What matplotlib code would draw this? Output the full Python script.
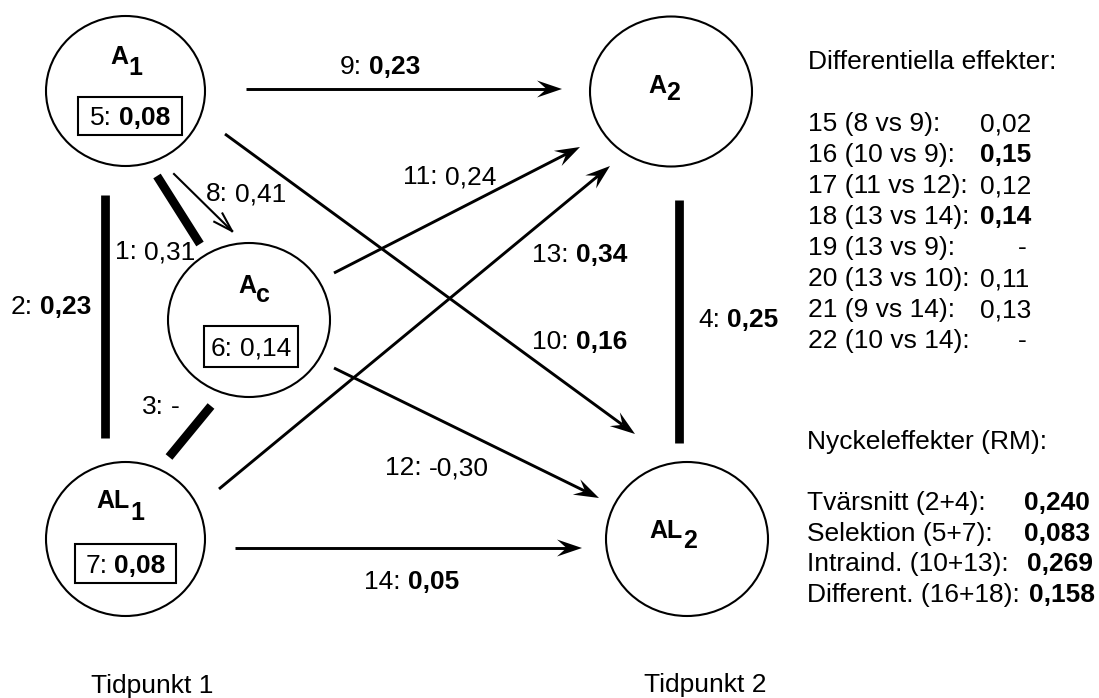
import numpy as np
import matplotlib
matplotlib.use("Agg")
import matplotlib.pyplot as plt
from matplotlib.patches import Ellipse, Rectangle

plt.rcParams['font.family'] = ['Liberation Sans', 'DejaVu Sans']

# --- data -------------------------------------------------------------
# path id, coefficient, significant (bold)
path_ids = ["1", "2", "3", "4", "8", "9", "10", "11", "12", "13", "14"]
path_vals = ["0,31", "0,23", "-", "0,25", "0,41", "0,23", "0,16", "0,24", "-0,30", "0,34", "0,05"]
path_bold = [False, True, False, True, False, True, True, False, False, True, True]

# selection effects shown in boxes inside the nodes
box_ids = ["5", "6", "7"]
box_vals = ["0,08", "0,14", "0,08"]
box_bold = [True, False, True]

diff_labels = ["15 (8 vs 9):", "16 (10 vs 9):", "17 (11 vs 12):", "18 (13 vs 14):",
               "19 (13 vs 9):", "20 (13 vs 10):", "21 (9 vs 14):", "22 (10 vs 14):"]
diff_vals = ["0,02", "0,15", "0,12", "0,14", "-", "0,11", "0,13", "-"]
diff_bold = [False, True, False, True, False, False, False, False]

key_labels = ["Tvärsnitt (2+4):", "Selektion (5+7):", "Intraind. (10+13):", "Different. (16+18):"]
key_vals = ["0,240", "0,083", "0,269", "0,158"]

# --- layout (pixel coords, y down) -----------------------------------
# centre x, centre y, radius x, radius y, label, (join x, main baseline, sub baseline)
nodes = {
    "A1": (125.5, 91, 79.5, 75, ("A", "1"), (128, 64, 75)),
    "A2": (671, 91.5, 81, 75, ("A", "2"), (666, 93, 100)),
    "Ac": (249, 320, 81, 77, ("A", "c"), (256, 293, 302)),
    "AL1": (125.5, 539, 79.5, 77, ("AL", "1"), (130, 508, 520)),
    "AL2": (687, 539, 81, 77, ("AL", "2"), (683, 538, 548)),
}
boxes = {"5": (78, 97, 104, 38), "6": (204, 326, 94, 41), "7": (75, 544, 101, 39)}

FS = 19
GAP = 0.278 * FS * 100 / 72

fig = plt.figure(figsize=(10.99, 6.98), dpi=100)
ax = fig.add_axes([0, 0, 1, 1])
ax.set_xlim(0, 1099)
ax.set_ylim(698, 0)
ax.axis('off')
renderer = fig.canvas.get_renderer()


def rich(x, y, parts, size=FS, ha='left'):
    # draw text pieces with mixed weights side by side, y = vertical centre
    objs = []
    cx = x
    base = y + 0.716 * size * 100 / 72 / 2
    for i, (s, b) in enumerate(parts):
        t = ax.text(cx, base, s, fontsize=size, fontweight='bold' if b else 'normal',
                    ha='left', va='baseline')
        cx += t.get_window_extent(renderer).width
        if i < len(parts) - 1:
            cx += GAP
        objs.append(t)
    if ha == 'center':
        shift = (cx - x) / 2
        for t in objs:
            t.set_x(t.get_position()[0] - shift)


def arrow(p0, p1, lw=2.1, hl=25, hw=8.5):
    (x0, y0), (x1, y1) = p0, p1
    d = np.hypot(x1 - x0, y1 - y0)
    ux, uy = (x1 - x0) / d, (y1 - y0) / d
    nx, ny = -uy, ux
    bx, by = x1 - hl * ux, y1 - hl * uy
    mx, my = x1 - 0.62 * hl * ux, y1 - 0.62 * hl * uy
    ax.plot([x0, mx], [y0, my], color='k', lw=lw, solid_capstyle='butt')
    ax.fill([x1, bx + hw * nx, mx, bx - hw * nx], [y1, by + hw * ny, my, by - hw * ny],
            color='k', lw=0)


def open_arrow(p0, p1, lw=1.5, hl=20, ang=17):
    (x0, y0), (x1, y1) = p0, p1
    ax.plot([x0, x1], [y0, y1], color='k', lw=lw)
    a = np.arctan2(y0 - y1, x0 - x1)
    for s in (-1, 1):
        b = a + s * np.radians(ang)
        ax.plot([x1, x1 + hl * np.cos(b)], [y1, y1 + hl * np.sin(b)], color='k', lw=lw)


def thick(p0, p1, lw=6.3):
    ax.plot([p0[0], p1[0]], [p0[1], p1[1]], color='k', lw=lw, solid_capstyle='butt')


# nodes
for name, (cx, cy, rx, ry, (main, sub), (jx, b1, b2)) in nodes.items():
    ax.add_patch(Ellipse((cx, cy), 2 * rx, 2 * ry, fill=False, lw=1.5, ec='k'))
    ax.text(jx, b1, main, fontsize=18, fontweight='bold', ha='right', va='baseline')
    ax.text(jx, b2, sub, fontsize=18, fontweight='bold', ha='left', va='baseline')

# boxed selection effects
for bid, val, b in zip(box_ids, box_vals, box_bold):
    x, y, w, h = boxes[bid]
    ax.add_patch(Rectangle((x, y), w, h, fill=False, lw=1.5, ec='k'))
    rich(x + w / 2, y + h / 2, [(bid + ":", False), (val, b)], ha='center')

# correlations (thick lines)
thick((157, 176), (200, 244))      # 1
thick((105, 195), (105, 438))      # 2
thick((169, 457), (211, 406))      # 3
thick((679, 200), (679, 443))      # 4

# regression paths
open_arrow((174, 174), (232, 231))  # 8
arrow((246, 89), (562, 89))         # 9
arrow((225, 134), (635, 434))       # 10
arrow((334, 273), (580, 147))       # 11
arrow((334, 368), (599, 498))       # 12
arrow((219, 489), (610, 166))       # 13
arrow((235, 548), (582, 548))       # 14

label_pos = {"1": (115, 250), "2": (11, 305), "3": (142, 405), "4": (698, 318),
             "8": (206, 192), "9": (340, 65), "10": (532, 340), "11": (403, 175),
             "12": (385, 466), "13": (532, 253), "14": (364, 580)}
for pid, val, b in zip(path_ids, path_vals, path_bold):
    x, y = label_pos[pid]
    rich(x, y, [(pid + ":", False), (val, b)])

# time labels
rich(152, 684, [("Tidpunkt 1", False)], ha='center')
rich(705, 683, [("Tidpunkt 2", False)], ha='center')

# right panel: differential effects
rich(808, 60, [("Differentiella effekter:", False)])
for i, (lab, val, b) in enumerate(zip(diff_labels, diff_vals, diff_bold)):
    y = 122 + 31 * i
    rich(808, y, [(lab, False)])
    if val == "-":
        rich(1022, y, [(val, b)], ha='center')
    else:
        rich(980, y, [(val, b)])

# right panel: key effects
rich(807, 440, [("Nyckeleffekter (RM):", False)])
key_x = [1024, 1024, 1027, 1029]
for i, (lab, val) in enumerate(zip(key_labels, key_vals)):
    y = 501 + 30.5 * i
    rich(807, y, [(lab, False)])
    rich(key_x[i], y, [(val, True)])

fig.savefig("out.png", dpi=100)
